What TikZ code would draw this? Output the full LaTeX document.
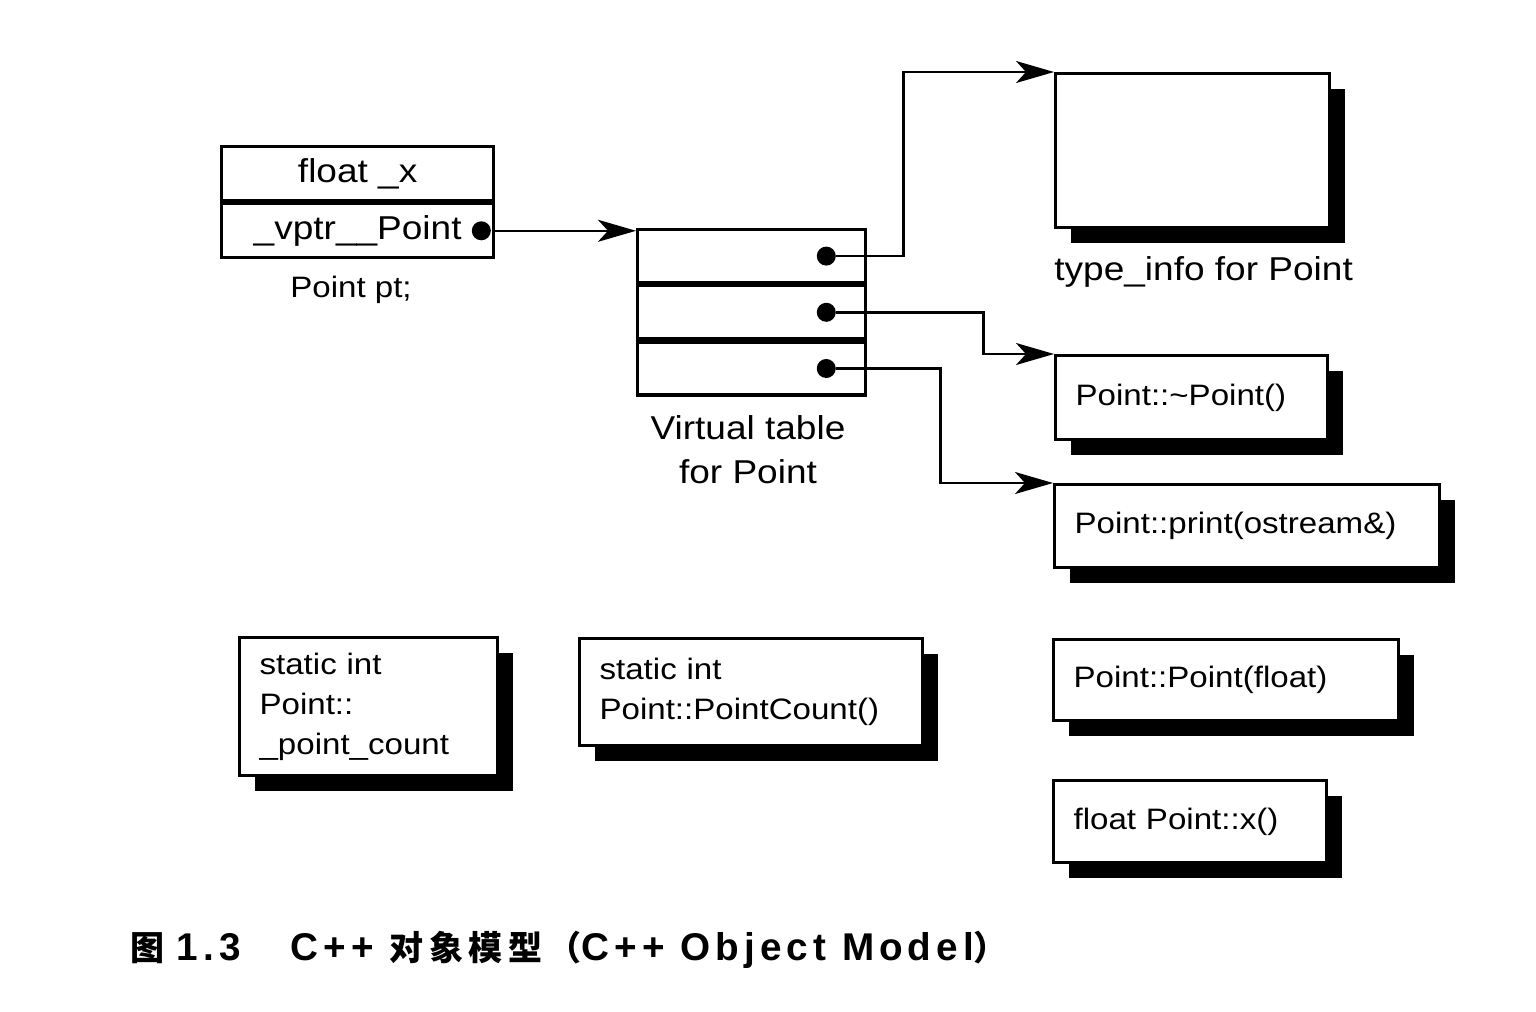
\documentclass[tikz,border=0pt]{standalone}
\usepackage{fontspec}
\setmainfont{Liberation Sans}[FakeStretch=1.12]
\newfontfamily\capcjk{Noto Sans CJK SC}[LetterSpace=16, Scale=0.88]
\newfontfamily\caplat{Liberation Sans}[LetterSpace=13]
\usetikzlibrary{positioning,shadows,arrows.meta}

\tikzset{
  cell/.style={draw, line width=0.9pt, minimum width=#1, inner sep=0pt,
    font=\fontsize{9.4}{12.5}\selectfont},
  fnbox/.style={draw, line width=0.9pt, fill=white, anchor=north west,
    align=left, text width=#1, inner xsep=0.2cm,
    font=\fontsize{8.4}{11.3}\selectfont,
    drop shadow={shadow xshift=0.15cm, shadow yshift=-0.15cm,
      opacity=1, fill=black}},
  dot/.style={circle, fill, inner sep=0pt, minimum size=0.19cm},
  link/.style={line width=0.7pt, -{Stealth[length=0.38cm, width=0.22cm, inset=0.1cm]}},
}

\begin{document}
\begin{tikzpicture}[x=0.01cm, y=-0.01cm]
  \useasboundingbox (0,0) rectangle (1536,1012);

  % the object pt
  \node[cell=2.72cm, minimum height=0.54cm, anchor=north west] (field)
    at (220,145) {float \_x};
  \node[cell=2.72cm, minimum height=0.54cm, below=0pt of field] (vptr)
    {\_vptr\_\_Point\hspace{0.25cm}};
  \node[dot] (vdot) at ([xshift=-0.14cm]vptr.east) {};
  \node[font=\fontsize{8.4}{10}\selectfont] (ptlbl) at (351,290) {Point pt;};

  % virtual table
  \node[cell=2.28cm, minimum height=0.53cm, anchor=north west] (slot1)
    at (636,228) {};
  \node[cell=2.28cm, minimum height=0.53cm, below=0pt of slot1] (slot2) {};
  \node[cell=2.28cm, minimum height=0.53cm, below=0pt of slot2] (slot3) {};
  \node[dot] (d1) at ([xshift=-0.41cm]slot1.east) {};
  \node[dot] (d2) at ([xshift=-0.41cm]slot2.east) {};
  \node[dot] (d3) at ([xshift=-0.41cm]slot3.east) {};
  \node[font=\fontsize{9.4}{12.5}\selectfont, align=center] (vtlbl)
    at (748,450) {Virtual table\\for Point};

  % type_info and member functions
  \node[fnbox=2.34cm, minimum height=1.54cm] (tinfo) at (1054,72) {};
  \node[font=\fontsize{9.4}{12}\selectfont, anchor=west] (tilbl)
    at (1042,272) {type\_info for Point};
  \node[fnbox=2.32cm, minimum height=0.84cm] (dtor) at (1054,354)
    {Point::\textasciitilde Point()};
  \node[fnbox=3.45cm, minimum height=0.83cm] (print) at (1053,483)
    {Point::print(ostream\&)};
  \node[fnbox=3.05cm, minimum height=0.81cm] (ctor) at (1052,638)
    {Point::Point(float)};
  \node[fnbox=2.33cm, minimum height=0.82cm] (getx) at (1052,779)
    {float Point::x()};

  % static members
  \node[fnbox=2.18cm, minimum height=1.38cm] (scount) at (238,636)
    {static int\\Point::\\\_point\_count};
  \node[fnbox=3.03cm, minimum height=1.07cm] (sfunc) at (578,637)
    {static int\\Point::PointCount()};

  \draw[link] (vdot) -- (vdot -| slot1.west);
  \draw[link] (d1) -- ++(77,0) |- (tinfo.north west);
  \draw[link] (d2) -- ++(157,0) |- (dtor.north west);
  \draw[link] (d3) -- ++(114,0) |- (print.north west);

  \node[anchor=west, inner sep=0pt, font=\bfseries\fontsize{11}{13}\selectfont] (caption)
    at (130,950) {\capcjk 图\hspace{0.12cm}\caplat 1.3\hspace{0.5cm}C++\hspace{0.16cm}%
    \capcjk 对象模型（\caplat C++ Object Model\capcjk ）};
\end{tikzpicture}
\end{document}
